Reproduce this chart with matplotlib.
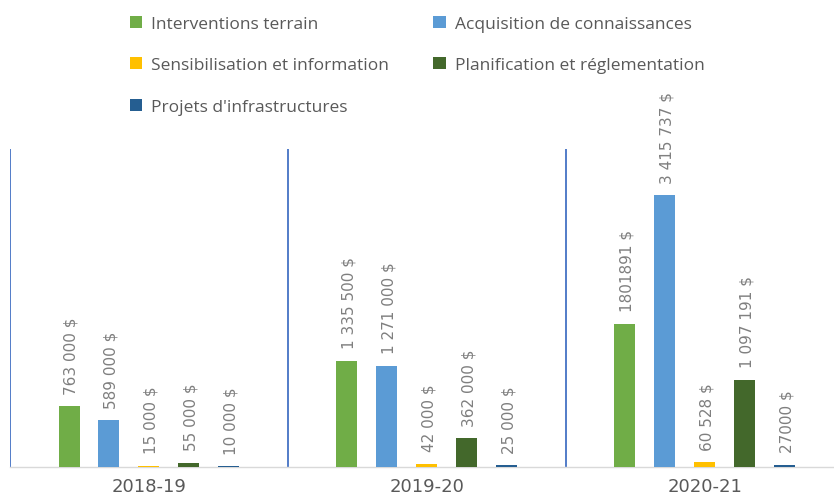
import matplotlib
matplotlib.use("Agg")
import matplotlib.pyplot as plt
from matplotlib.patches import Patch
import numpy as np

years = ["2018-19", "2019-20", "2020-21"]
series_names = [
    "Interventions terrain",
    "Acquisition de connaissances",
    "Sensibilisation et information",
    "Planification et réglementation",
    "Projets d'infrastructures",
]
interventions = [763000, 1335500, 1801891]
acquisition = [589000, 1271000, 3415737]
sensibilisation = [15000, 42000, 60528]
planification = [55000, 362000, 1097191]
projets = [10000, 25000, 27000]

labels_interventions = ["763 000 $", "1 335 500 $", "1801891 $"]
labels_acquisition = ["589 000 $", "1 271 000 $", "3 415 737 $"]
labels_sensibilisation = ["15 000 $", "42 000 $", "60 528 $"]
labels_planification = ["55 000 $", "362 000 $", "1 097 191 $"]
labels_projets = ["10 000 $", "25 000 $", "27000 $"]

colors = ["#70AD47", "#5B9BD5", "#FFC000", "#43682B", "#255E91"]

values = [interventions, acquisition, sensibilisation, planification, projets]
labels = [labels_interventions, labels_acquisition, labels_sensibilisation,
          labels_planification, labels_projets]

W, H = 834, 502
fig = plt.figure(figsize=(W / 100, H / 100), dpi=100)
ax = fig.add_axes([10 / W, 34 / H, 834 / W, 318 / H])

x = np.arange(len(years))
step = 40 / 278
bw = 21 / 278
for i, (vals, labs, c) in enumerate(zip(values, labels, colors)):
    pos = x + (i - 2) * step
    bars = ax.bar(pos, vals, width=bw, color=c, zorder=3)
    for b, t in zip(bars, labs):
        ax.annotate(t, (b.get_x() + b.get_width() / 2, b.get_height()),
                    xytext=(1.5, 9), textcoords="offset points",
                    rotation=90, ha="center", va="bottom",
                    fontsize=11, color="#7F7F7F", family="DejaVu Sans")

ax.set_xlim(-0.5, 2.5)
ax.set_ylim(0, 4000000)
for sep in [-0.5, 0.5, 1.5]:
    ax.axvline(sep, color="#4472C4", lw=1.3, zorder=2)
for s in ["top", "right", "left"]:
    ax.spines[s].set_visible(False)
ax.spines["bottom"].set_color("#D9D9D9")
ax.spines["bottom"].set_linewidth(1.0)
ax.set_yticks([])
ax.set_xticks(x)
ax.set_xticklabels(years, fontsize=13, color="#595959", family="DejaVu Sans")
ax.tick_params(axis="x", length=0, pad=7)

order = [0, 2, 4, 1, 3]
handles = [Patch(facecolor=colors[k], edgecolor="none") for k in order]
names = [series_names[k] for k in order]
leg = fig.legend(handles, names, ncol=2, loc="upper left",
                 bbox_to_anchor=(114 / W, 1 - 1 / H), frameon=False,
                 prop={"family": "Open Sans", "size": 12.5},
                 handlelength=0.7, handleheight=0.7, handletextpad=0.55,
                 labelspacing=1.47, columnspacing=2.55, labelcolor="#595959")

fig.savefig("out.png", dpi=100)
